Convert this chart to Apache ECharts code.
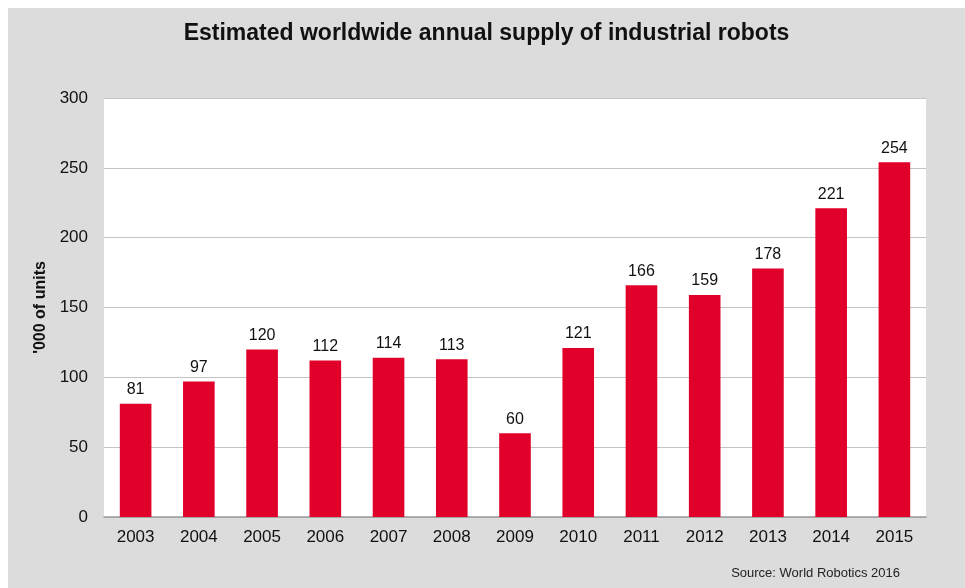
<!DOCTYPE html>
<html>
<head>
<meta charset="utf-8">
<script src="https://cdn.jsdelivr.net/npm/echarts@6/dist/echarts.min.js"></script>
<style>
  html, body { margin: 0; padding: 0; background: #fff; }
  #chart { position: absolute; left: 8px; top: 8px; width: 957px; height: 580px; }
</style>
</head>
<body>
<div id="chart"></div>
<script>
var years = ['2003', '2004', '2005', '2006', '2007', '2008', '2009', '2010', '2011', '2012', '2013', '2014', '2015'];
var supply = [81, 97, 120, 112, 114, 113, 60, 121, 166, 159, 178, 221, 254];

var robotsChart = echarts.init(document.getElementById('chart'));

var option = {
  backgroundColor: '#dcdcdc',
  textStyle: { fontFamily: 'Liberation Sans, Arial, sans-serif' },
  title: {
    text: 'Estimated worldwide annual supply of industrial robots',
    left: 'center',
    top: 9,
    textStyle: { fontSize: 23, fontWeight: 'bold', color: '#111' }
  },
  grid: {
    left: 96,
    right: 39,
    top: 90,
    bottom: 71,
    show: true,
    backgroundColor: '#fff',
    borderWidth: 0
  },
  xAxis: {
    type: 'category',
    data: years,
    axisTick: { show: false },
    axisLine: { lineStyle: { color: '#999', width: 1.5 } },
    axisLabel: { fontSize: 17, color: '#111', margin: 12 }
  },
  yAxis: {
    type: 'value',
    min: 0,
    max: 300,
    interval: 50,
    name: "'000 of units",
    nameLocation: 'middle',
    nameGap: 50,
    nameTextStyle: { fontSize: 16, fontWeight: 'bold', color: '#111' },
    axisLine: { show: false },
    axisTick: { show: false },
    axisLabel: { fontSize: 17, color: '#111', margin: 16 },
    splitLine: { lineStyle: { color: '#c4c4c4', width: 1 } }
  },
  series: [
    {
      type: 'bar',
      data: supply,
      barWidth: '50%',
      itemStyle: { color: '#e0002a' },
      label: { show: true, position: 'top', fontSize: 16, color: '#111', distance: 6 }
    }
  ],
  graphic: [
    {
      type: 'text',
      right: 65,
      bottom: 8,
      style: { text: 'Source: World Robotics 2016', fontSize: 13, fill: '#222', fontFamily: 'Liberation Sans, Arial, sans-serif' }
    }
  ]
};

robotsChart.setOption(option);
</script>
</body>
</html>
